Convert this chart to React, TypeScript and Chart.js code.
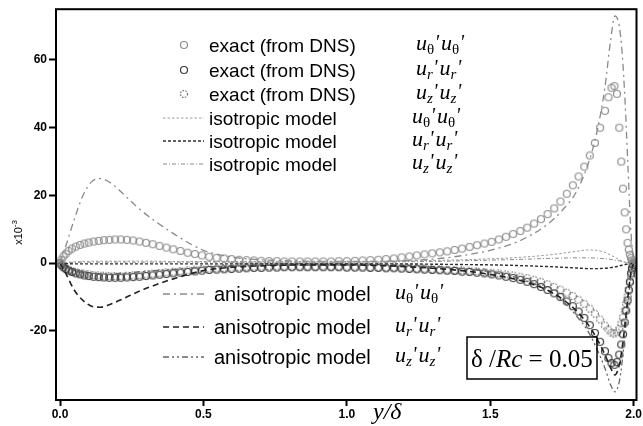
import React, { useEffect, useRef } from "react";
import { Chart, registerables } from "chart.js";

Chart.register(...registerables);

// ---------- data ----------
const X_DNS = [
  0, 0.005, 0.012, 0.02, 0.03, 0.042, 0.055, 0.07, 0.085, 0.1,
  0.117, 0.135, 0.153, 0.172, 0.192, 0.212, 0.233, 0.255, 0.277, 0.3,
  0.323, 0.347, 0.371, 0.395, 0.42, 0.445, 0.47, 0.495, 0.52, 0.546,
  0.572, 0.598, 0.624, 0.65, 0.676, 0.702, 0.729, 0.756, 0.782, 0.809,
  0.836, 0.863, 0.89, 0.918, 0.945, 0.972, 1.0, 1.028, 1.055, 1.082,
  1.11, 1.137, 1.164, 1.191, 1.218, 1.244, 1.271, 1.298, 1.324, 1.35,
  1.376, 1.402, 1.428, 1.454, 1.48, 1.505, 1.53, 1.555, 1.58, 1.605,
  1.629, 1.653, 1.677, 1.7, 1.723, 1.745, 1.767, 1.788, 1.808, 1.828,
  1.847, 1.865, 1.883, 1.9, 1.912, 1.923, 1.933, 1.942, 1.95, 1.957,
  1.963, 1.969, 1.974, 1.979, 1.983, 1.987, 1.991, 1.994, 1.997, 2.0,
];

const EXACT_UTH = [
  0, 1.0, 2.0, 2.8, 3.6, 4.3, 4.9, 5.4, 5.8, 6.1,
  6.4, 6.6, 6.8, 6.9, 7.0, 7.0, 6.9, 6.7, 6.4, 6.0,
  5.6, 5.1, 4.6, 4.1, 3.6, 3.1, 2.7, 2.3, 1.9, 1.6,
  1.4, 1.2, 1.0, 0.9, 0.8, 0.7, 0.6, 0.6, 0.5, 0.5,
  0.5, 0.5, 0.5, 0.5, 0.5, 0.6, 0.6, 0.7, 0.8, 0.9,
  1.0, 1.2, 1.4, 1.7, 2.0, 2.3, 2.6, 2.9, 3.2, 3.5,
  3.9, 4.3, 4.8, 5.3, 5.8, 6.3, 7.0, 7.8, 8.6, 9.5,
  10.5, 11.7, 13.0, 14.5, 16.2, 18.2, 20.5, 23.0, 25.6, 28.5,
  31.8, 35.5, 40.0, 45.0, 49.0, 51.8, 52.3, 50.0, 40.0, 30.0,
  22.0, 15.0, 10.0, 6.0, 4.0, 2.5, 1.5, 0.8, 0.3, 0,
];

const EXACT_UR = [
  0, -0.6, -1.2, -1.7, -2.2, -2.6, -3.0, -3.3, -3.6, -3.8,
  -4.0, -4.1, -4.2, -4.3, -4.3, -4.3, -4.2, -4.1, -4.0, -3.8,
  -3.6, -3.4, -3.2, -3.0, -2.8, -2.6, -2.4, -2.2, -2.0, -1.9,
  -1.8, -1.7, -1.6, -1.5, -1.4, -1.4, -1.3, -1.3, -1.2, -1.2,
  -1.2, -1.2, -1.2, -1.2, -1.2, -1.2, -1.3, -1.3, -1.3, -1.4,
  -1.4, -1.5, -1.5, -1.6, -1.7, -1.8, -1.9, -2.0, -2.1, -2.2,
  -2.3, -2.5, -2.6, -2.8, -3.0, -3.3, -3.6, -4.0, -4.4, -4.9,
  -5.5, -6.2, -7.0, -7.9, -8.9, -10.0, -11.3, -12.7, -14.3, -16.2,
  -18.3, -20.6, -23.2, -26.0, -28.0, -29.5, -30.0, -29.2, -27.0, -24.0,
  -21.0, -17.5, -14.0, -11.0, -8.0, -5.5, -3.0, -1.5, -0.5, 0,
];

const EXACT_UZ = [
  0, -0.5, -1.0, -1.5, -1.9, -2.3, -2.6, -2.9, -3.1, -3.3,
  -3.5, -3.6, -3.7, -3.8, -3.8, -3.8, -3.7, -3.6, -3.5, -3.3,
  -3.1, -2.9, -2.7, -2.5, -2.3, -2.1, -1.9, -1.7, -1.6, -1.5,
  -1.4, -1.3, -1.2, -1.1, -1.0, -1.0, -0.9, -0.9, -0.9, -0.9,
  -0.9, -0.9, -0.9, -0.9, -0.9, -0.9, -1.0, -1.0, -1.0, -1.1,
  -1.1, -1.2, -1.2, -1.3, -1.4, -1.5, -1.6, -1.7, -1.8, -1.9,
  -2.0, -2.1, -2.2, -2.4, -2.6, -2.8, -3.0, -3.3, -3.6, -4.0,
  -4.4, -4.9, -5.5, -6.2, -7.0, -7.8, -8.7, -9.7, -10.8, -12.0,
  -13.4, -14.9, -16.6, -18.4, -19.6, -20.5, -20.8, -20.4, -19.4, -17.8,
  -16.0, -14.0, -12.0, -9.8, -7.8, -5.8, -3.8, -2.2, -0.8, 0,
];

const X_MODEL = [
  0, 0.02, 0.05, 0.08, 0.11, 0.14, 0.18, 0.22, 0.27, 0.33,
  0.4, 0.5, 0.6, 0.7, 0.85, 1.0, 1.15, 1.3, 1.4, 1.5,
  1.6, 1.7, 1.75, 1.8, 1.84, 1.87, 1.9, 1.92, 1.935, 1.95,
  1.96, 1.97, 1.98, 1.99, 2.0,
];

const ISO_UTH = [
  0, 0.2, 0.4, 0.5, 0.6, 0.6, 0.6, 0.6, 0.6, 0.6,
  0.5, 0.5, 0.5, 0.5, 0.5, 0.5, 0.6, 0.8, 1.0, 1.3,
  1.7, 2.4, 2.9, 3.5, 3.9, 3.8, 3.2, 2.4, 1.7, 1.0,
  0.6, 0.3, 0.15, 0.05, 0,
];
const ISO_UR = [
  0, -0.1, -0.2, -0.2, -0.2, -0.2, -0.2, -0.2, -0.2, -0.2,
  -0.2, -0.2, -0.2, -0.2, -0.2, -0.2, -0.2, -0.3, -0.4, -0.5,
  -0.7, -1.0, -1.2, -1.4, -1.6, -1.6, -1.5, -1.3, -1.1, -0.8,
  -0.6, -0.4, -0.2, -0.1, 0,
];
const ISO_UZ = [
  0, 0.1, 0.2, 0.3, 0.3, 0.3, 0.3, 0.3, 0.3, 0.3,
  0.3, 0.3, 0.3, 0.3, 0.3, 0.3, 0.4, 0.5, 0.7, 0.9,
  1.1, 1.4, 1.5, 1.6, 1.6, 1.5, 1.3, 1.1, 0.9, 0.7,
  0.5, 0.3, 0.2, 0.1, 0,
];
const ANISO_UTH = [
  0, 5, 13, 20, 24, 25, 23.5, 20.5, 16.5, 12.5,
  8.5, 3.8, 1.8, 1.0, 0.6, 0.5, 0.6, 1.2, 2.2, 3.8,
  6.5, 11.5, 15.5, 21, 29, 38, 52, 66, 73, 70,
  62, 48, 29, 10, 0,
];
const ANISO_UR = [
  0, -3, -8, -11, -12.7, -13, -12, -10.5, -8.5, -6.5,
  -4.5, -2.2, -1.2, -0.8, -0.5, -0.5, -0.8, -1.5, -2.2, -3.3,
  -5, -8, -10.5, -14, -18, -22, -27, -31, -33, -30,
  -25, -18, -10, -3, 0,
];
const ANISO_UZ = [
  0, -0.8, -2, -2.8, -3.2, -3.3, -3.2, -3, -2.6, -2.2,
  -1.8, -1.2, -0.9, -0.7, -0.6, -0.6, -0.7, -1.0, -1.6, -2.6,
  -4.5, -8, -11, -15.5, -20, -25, -31, -36, -38, -35,
  -29, -21, -12, -4, 0,
];

const X_TICKS = [0, 0.5, 1.0, 1.5, 2.0];
const X_TICK_LABELS = ["0.0", "0.5", "1.0", "1.5", "2.0"];
const Y_TICKS = [-20, 0, 20, 40, 60];
const Y_TICK_LABELS = ["-20", "0", "20", "40", "60"];

// ---------- styles ----------
const SANS = '"Liberation Sans", Arial, Helvetica, sans-serif';
const SERIF = '"Liberation Serif", "Times New Roman", serif';

const C_UTH = "#8e8e8e";
const C_UR = "#3c3c3c";
const C_UZ = "#6e6e6e";

const ST = {
  isoTh: { color: "#9a9a9a", dash: [2.5, 2], width: 1 },
  isoR: { color: "#2e2e2e", dash: [3, 2], width: 1.4 },
  isoZ: { color: "#8a8a8a", dash: [4, 2, 1, 2], width: 1 },
  anTh: { color: "#8a8a8a", dash: [7, 4, 2, 4], width: 1.3 },
  anR: { color: "#222222", dash: [6, 4], width: 1.6 },
  anZ: { color: "#666666", dash: [6, 3, 2, 3, 2, 3], width: 1.3 },
};

function makeCircle(color: string, dashed: boolean): HTMLCanvasElement {
  const c = document.createElement("canvas");
  c.width = 10;
  c.height = 10;
  const g = c.getContext("2d")!;
  g.strokeStyle = color;
  g.lineWidth = 1.2;
  if (dashed) g.setLineDash([1.6, 1.3]);
  g.beginPath();
  g.arc(5, 5, 3.5, 0, Math.PI * 2);
  g.stroke();
  return c;
}

function drawU(ctx: CanvasRenderingContext2D, x: number, y: number, sub: string, subItalic: boolean) {
  let cx = x;
  for (let k = 0; k < 2; k++) {
    ctx.font = `italic 22px ${SERIF}`;
    ctx.fillText("u", cx, y);
    cx += ctx.measureText("u").width;
    ctx.font = `${subItalic ? "italic " : ""}15px ${SERIF}`;
    ctx.fillText(sub, cx, y + 4);
    cx += ctx.measureText(sub).width + 0.5;
    ctx.font = `italic 20px ${SERIF}`;
    ctx.fillText("'", cx, y - 1);
    cx += ctx.measureText("'").width + 2;
  }
}

export default function App() {
  const ref = useRef<HTMLCanvasElement>(null);

  useEffect(() => {
    const canvas = ref.current!;
    const pts = (xs: number[], ys: number[]) => xs.map((x, i) => ({ x, y: ys[i] }));
    const circTh = makeCircle(C_UTH, false);
    const circR = makeCircle(C_UR, false);
    const circZ = makeCircle(C_UZ, true);

    const lineDs = (label: string, ys: number[], s: any) => ({
      label,
      data: pts(X_MODEL, ys),
      showLine: true,
      pointRadius: 0,
      borderColor: s.color,
      borderDash: s.dash,
      borderWidth: s.width,
      cubicInterpolationMode: "monotone",
      fill: false,
    });
    const dotDs = (label: string, ys: number[], img: HTMLCanvasElement, color: string) => ({
      label,
      data: pts(X_DNS, ys),
      showLine: false,
      pointStyle: img,
      pointRadius: 3.5,
      borderColor: color,
      backgroundColor: "rgba(0,0,0,0)",
    });

    const overlay = {
      id: "overlay",
      afterDraw(chart: any) {
        const ctx: CanvasRenderingContext2D = chart.ctx;
        const a = chart.chartArea;
        ctx.save();
        ctx.strokeStyle = "#000";
        ctx.lineWidth = 2;
        ctx.setLineDash([]);
        ctx.strokeRect(a.left, a.top, a.right - a.left, a.bottom - a.top);

        // legend
        ctx.fillStyle = "#000";
        ctx.textBaseline = "alphabetic";
        const seg = (x1: number, x2: number, y: number, s: any) => {
          ctx.save();
          ctx.strokeStyle = s.color;
          ctx.lineWidth = s.width;
          ctx.setLineDash(s.dash);
          ctx.beginPath();
          ctx.moveTo(x1, y);
          ctx.lineTo(x2, y);
          ctx.stroke();
          ctx.restore();
        };
        const rows = [
          { y: 45, img: circTh, text: "exact (from DNS)", sub: "θ", it: false, tx: 209, mx: 416, fs: 19 },
          { y: 70, img: circR, text: "exact (from DNS)", sub: "r", it: true, tx: 209, mx: 416, fs: 19 },
          { y: 94, img: circZ, text: "exact (from DNS)", sub: "z", it: true, tx: 209, mx: 416, fs: 19 },
          { y: 118, st: ST.isoTh, text: "isotropic model", sub: "θ", it: false, tx: 209, mx: 412, fs: 19 },
          { y: 141, st: ST.isoR, text: "isotropic model", sub: "r", it: true, tx: 209, mx: 412, fs: 19 },
          { y: 164, st: ST.isoZ, text: "isotropic model", sub: "z", it: true, tx: 209, mx: 412, fs: 19 },
          { y: 294, st: ST.anTh, text: "anisotropic model", sub: "θ", it: false, tx: 214, mx: 395, fs: 20 },
          { y: 327, st: ST.anR, text: "anisotropic model", sub: "r", it: true, tx: 214, mx: 395, fs: 20 },
          { y: 357, st: ST.anZ, text: "anisotropic model", sub: "z", it: true, tx: 214, mx: 395, fs: 20 },
        ];
        for (const r of rows as any[]) {
          if (r.img) {
            ctx.drawImage(r.img, 184 - 5, r.y - 5, 10, 10);
          } else {
            seg(163, 204, r.y, r.st);
          }
          ctx.fillStyle = "#000";
          ctx.font = `${r.fs}px ${SANS}`;
          ctx.fillText(r.text, r.tx, r.y + 7);
          drawU(ctx, r.mx, r.y + 5, r.sub, r.it);
        }

        // delta/Rc box
        ctx.lineWidth = 1.5;
        ctx.strokeStyle = "#000";
        ctx.strokeRect(467, 337, 130, 42);
        let bx = 471;
        const by = 367;
        ctx.font = `25px ${SERIF}`;
        ctx.fillText("δ /", bx, by);
        bx += ctx.measureText("δ /").width;
        ctx.font = `italic 25px ${SERIF}`;
        ctx.fillText("Rc", bx, by);
        bx += ctx.measureText("Rc").width;
        ctx.font = `25px ${SERIF}`;
        ctx.fillText(" = 0.05", bx, by);

        // x-axis title
        ctx.font = `italic 24px ${SERIF}`;
        ctx.fillText("y/δ", 373, 419);

        // y-axis title
        ctx.save();
        ctx.translate(22, 232);
        ctx.rotate(-Math.PI / 2);
        ctx.font = `11px ${SANS}`;
        ctx.textAlign = "left";
        const w = ctx.measureText("x10").width;
        ctx.fillText("x10", -w / 2 - 4, 0);
        ctx.font = `8px ${SANS}`;
        ctx.fillText("-3", w / 2 - 4, -5);
        ctx.restore();

        ctx.restore();
      },
    };

    const chart = new Chart(canvas, {
      type: "scatter",
      data: {
        datasets: [
          lineDs("isotropic uθ'uθ'", ISO_UTH, ST.isoTh),
          lineDs("isotropic ur'ur'", ISO_UR, ST.isoR),
          lineDs("isotropic uz'uz'", ISO_UZ, ST.isoZ),
          lineDs("anisotropic uθ'uθ'", ANISO_UTH, ST.anTh),
          lineDs("anisotropic ur'ur'", ANISO_UR, ST.anR),
          lineDs("anisotropic uz'uz'", ANISO_UZ, ST.anZ),
          dotDs("exact uθ'uθ'", EXACT_UTH, circTh, C_UTH),
          dotDs("exact ur'ur'", EXACT_UR, circR, C_UR),
          dotDs("exact uz'uz'", EXACT_UZ, circZ, C_UZ),
        ] as any,
      },
      options: {
        responsive: false,
        animation: false,
        devicePixelRatio: 1,
        layout: { padding: { top: 9, right: 3, left: 0, bottom: 0 } },
        plugins: { legend: { display: false }, tooltip: { enabled: false } },
        scales: {
          x: {
            type: "linear",
            min: -0.014,
            max: 2.01,
            afterBuildTicks: (s: any) => {
              s.ticks = X_TICKS.map((v) => ({ value: v }));
            },
            afterFit: (s: any) => {
              s.height = 26;
            },
            ticks: {
              autoSkip: false,
              maxRotation: 0,
              padding: 1,
              color: "#000",
              font: { family: SANS, size: 12, weight: "bold" },
              callback: (v: any) => {
                const i = X_TICKS.indexOf(Number(v));
                return i >= 0 ? X_TICK_LABELS[i] : "";
              },
            },
            grid: { drawOnChartArea: false, drawTicks: true, tickLength: 6, tickWidth: 2, color: "#000" },
            border: { display: false },
          },
          y: {
            type: "linear",
            min: -40.4,
            max: 75,
            afterBuildTicks: (s: any) => {
              s.ticks = Y_TICKS.map((v) => ({ value: v }));
            },
            afterFit: (s: any) => {
              s.width = 56;
            },
            ticks: {
              autoSkip: false,
              padding: 2,
              color: "#000",
              font: { family: SANS, size: 12, weight: "bold" },
              callback: (v: any) => {
                const i = Y_TICKS.indexOf(Number(v));
                return i >= 0 ? Y_TICK_LABELS[i] : "";
              },
            },
            grid: { drawOnChartArea: false, drawTicks: true, tickLength: 7, tickWidth: 2, color: "#000" },
            border: { display: false },
          },
        },
      } as any,
      plugins: [overlay],
    });
    return () => chart.destroy();
  }, []);

  return (
    <div style={{ position: "fixed", left: 0, top: 0, width: 643, height: 426, background: "#fff" }}>
      <canvas ref={ref} width={643} height={426} style={{ width: 643, height: 426, display: "block" }} />
    </div>
  );
}
